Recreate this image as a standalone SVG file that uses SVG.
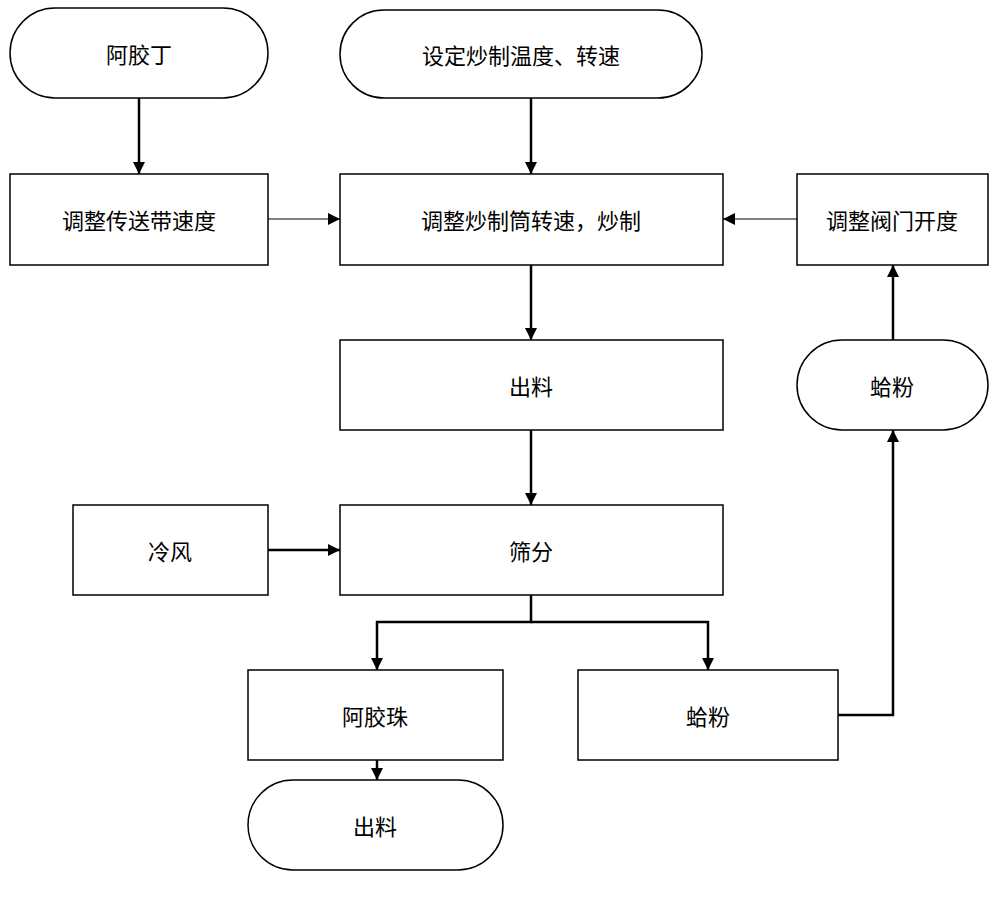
<svg xmlns="http://www.w3.org/2000/svg" width="1000" height="908" viewBox="0 0 1000 908">
<style>
.n{fill:#fff;stroke:#000;stroke-width:1.5}
.t{font-family:"Noto Sans CJK SC","Liberation Sans",sans-serif;font-size:22px;text-anchor:middle;dominant-baseline:central;fill:#000}
.c{fill:none;stroke:#000;stroke-width:2.5}
.h{fill:none;stroke:#000;stroke-width:1.2}
</style>
<defs>
<marker id="a" viewBox="0 0 10 10" refX="10" refY="5" markerWidth="12" markerHeight="12" markerUnits="userSpaceOnUse" orient="auto"><path d="M0,0L10,5L0,10z" fill="#000"/></marker>
</defs>
<rect width="1000" height="908" fill="#fff"/>
<g id="connectors">
<path class="c" d="M139,98V174" marker-end="url(#a)"/>
<path class="c" d="M531,98V174" marker-end="url(#a)"/>
<path class="h" d="M268,219H340" marker-end="url(#a)"/>
<path class="h" d="M797,219H723" marker-end="url(#a)"/>
<path class="c" d="M531,265V340" marker-end="url(#a)"/>
<path class="c" d="M531,430V505" marker-end="url(#a)"/>
<path class="c" d="M268,550H340" marker-end="url(#a)"/>
<path class="c" d="M531,595V622H377V670" marker-end="url(#a)"/>
<path class="c" d="M531,622H708V670" marker-end="url(#a)"/>
<path class="c" d="M377,760V780" marker-end="url(#a)"/>
<path class="c" d="M838,715H893V430" marker-end="url(#a)"/>
<path class="c" d="M893,340V265" marker-end="url(#a)"/>
</g>
<g id="n1"><rect class="n" x="10" y="8" width="258" height="90" rx="45"/><text class="t" x="139" y="53">阿胶丁</text></g>
<g id="n2"><rect class="n" x="340" y="10" width="362" height="88" rx="44"/><text class="t" x="521" y="54">设定炒制温度、转速</text></g>
<g id="n3"><rect class="n" x="10" y="174" width="258" height="91"/><text class="t" x="139" y="219">调整传送带速度</text></g>
<g id="n4"><rect class="n" x="340" y="174" width="383" height="91"/><text class="t" x="531" y="219">调整炒制筒转速，炒制</text></g>
<g id="n5"><rect class="n" x="797" y="174" width="191" height="91"/><text class="t" x="892" y="219">调整阀门开度</text></g>
<g id="n6"><rect class="n" x="340" y="340" width="383" height="90"/><text class="t" x="531" y="385">出料</text></g>
<g id="n7"><rect class="n" x="797" y="340" width="191" height="90" rx="45"/><text class="t" x="892" y="385">蛤粉</text></g>
<g id="n8"><rect class="n" x="73" y="505" width="195" height="90"/><text class="t" x="170" y="550">冷风</text></g>
<g id="n9"><rect class="n" x="340" y="505" width="383" height="90"/><text class="t" x="531" y="550">筛分</text></g>
<g id="n10"><rect class="n" x="248" y="670" width="255" height="90"/><text class="t" x="375" y="715">阿胶珠</text></g>
<g id="n11"><rect class="n" x="578" y="670" width="260" height="90"/><text class="t" x="708" y="715">蛤粉</text></g>
<g id="n12"><rect class="n" x="248" y="780" width="255" height="90" rx="45"/><text class="t" x="375" y="825">出料</text></g>
</svg>
